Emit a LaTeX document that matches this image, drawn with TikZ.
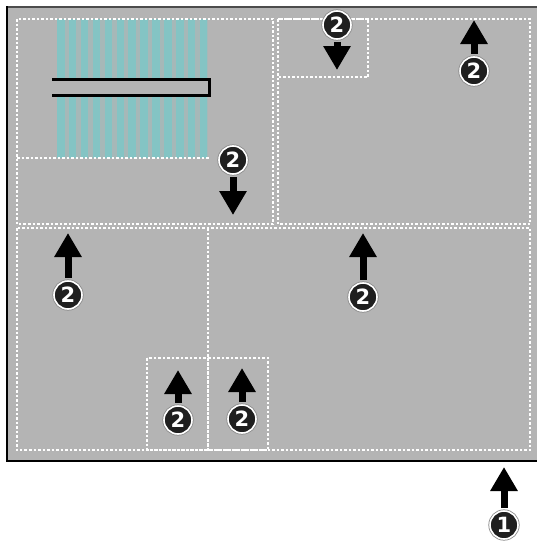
\documentclass[tikz,border=0pt]{standalone}
\usepackage{fontspec}
\newfontfamily\numfont{DejaVu Sans}
\usetikzlibrary{arrows.meta}
\definecolor{panel}{HTML}{B4B4B4}
\definecolor{stripe}{HTML}{84C4C4}
\definecolor{stripegap}{HTML}{A6B8B8}
\begin{document}
\begin{tikzpicture}[x=1pt,y=-1pt,
  dotline/.style={draw=white, line width=1.9pt, dash pattern=on 2.5pt off 2pt},
  badge/.style={circle, minimum size=28pt, inner sep=0pt, fill=black!88,
    draw=white, line width=1.6pt, preaction={draw=black!45, line width=3.2pt},
    text=white, font=\numfont\bfseries\fontsize{21}{21}\selectfont},
  bigarrow/.style={line width=7pt, -{Triangle[width=26pt,length=24pt]}, black}]
\useasboundingbox (0,0) rectangle (537,541);
\fill[white] (0,0) rectangle (537,541);
% panel
\fill[panel] (7,7) rectangle (537,461);
\draw[black!70, line width=1.5pt] (7,7) -- (537,7);
\draw[black, line width=2.5pt] (7,6) -- (7,461) -- (537,461);
% cyan stripes
\fill[stripegap] (57,19) rectangle (208,158);
\foreach \i in {0,...,12} {
  \fill[stripe] ({57+\i*11.9},19) rectangle ({64.5+\i*11.9},158);
}
% slot
\fill[panel] (52,79) rectangle (209,95);
\draw[black, line width=3pt] (52,79) -- (209,79) -- (209,95) -- (52,95);
% dotted regions
\draw[dotline] (17,19) rectangle (273,224);
\draw[dotline] (17,158) -- (210,158);
\draw[dotline] (278,19) rectangle (530,224);
\draw[dotline] (278,19) rectangle (368,77);
\draw[dotline] (17,228) rectangle (530,450);
\draw[dotline] (208,228) -- (208,450);
\draw[dotline] (147,358) rectangle (208,450);
\draw[dotline] (208,358) rectangle (268,450);
% badges
\node[badge] (b1) at (233,160) {2};
\node[badge] (b2) at (337,25) {2};
\node[badge] (b3) at (474,71) {2};
\node[badge] (b4) at (68,295) {2};
\node[badge] (b5) at (363,297) {2};
\node[badge] (b6) at (178,420) {2};
\node[badge] (b7) at (242,419) {2};
\node[badge] (b8) at (504,525) {1};
% arrow tips
\coordinate (t1) at (233,215);
\coordinate (t2) at (337,70);
\coordinate (t3) at (474,20);
\coordinate (t4) at (68,233);
\coordinate (t5) at (363,233);
\coordinate (t6) at (178,370);
\coordinate (t7) at (242,368);
\coordinate (t8) at (504,467);
\draw[bigarrow] ([yshift=-2pt]b1.south) -- (t1);
\draw[bigarrow] ([yshift=-2pt]b2.south) -- (t2);
\draw[bigarrow] ([yshift=2pt]b3.north) -- (t3);
\draw[bigarrow] ([yshift=2pt]b4.north) -- (t4);
\draw[bigarrow] ([yshift=2pt]b5.north) -- (t5);
\draw[bigarrow] ([yshift=2pt]b6.north) -- (t6);
\draw[bigarrow] ([yshift=2pt]b7.north) -- (t7);
\draw[bigarrow] ([yshift=2pt]b8.north) -- (t8);
\end{tikzpicture}
\end{document}
